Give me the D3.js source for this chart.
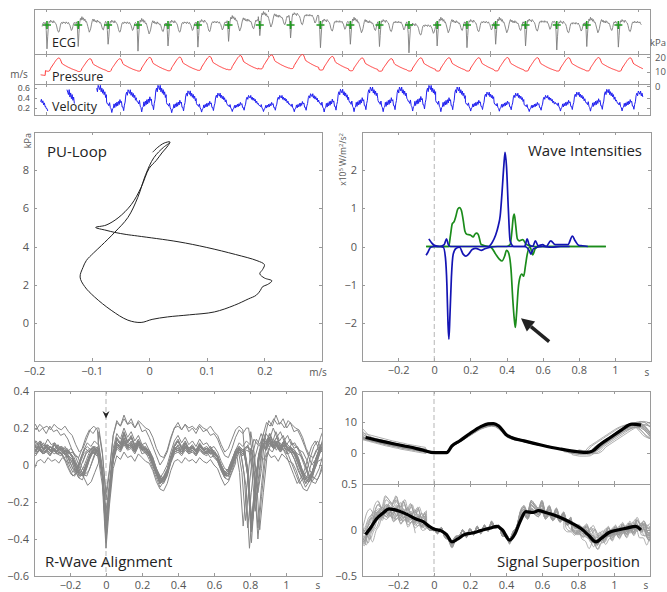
<!DOCTYPE html>
<html>
<head>
<meta charset="utf-8">
<script src="https://cdn.jsdelivr.net/npm/d3@7"></script>
<style>
  body { margin: 0; background: #fff; }
  svg text { font-family: "Open Sans", "Noto Sans", sans-serif; }
  .tick text { fill: #555; font-size: 11px; font-family: "Open Sans", "Noto Sans", sans-serif; }
  .tick line { stroke: #9a9a9a; shape-rendering: crispEdges; }
  .domain { display: none; }
  .tight .tick text { font-family: "Liberation Sans", sans-serif; font-size: 8.8px; }
</style>
</head>
<body>
<svg id="fig" width="667" height="592"></svg>
<script>
const rTimes = [0.031, 0.875, 1.683, 2.491, 3.302, 4.110, 4.939, 5.783, 6.615, 7.423,
  8.231, 9.018, 9.815, 10.577, 11.383, 12.158, 12.966, 13.810, 14.621, 15.475];
const rPrev = -0.80; // beat before the first marker (off screen)
const rMarkerLevel = 0.035;

// one-cycle templates, time relative to R (s)
const tmplT = [-0.04, -0.02, 0, 0.02, 0.04, 0.06, 0.08, 0.10, 0.12, 0.14, 0.16, 0.18, 0.20, 0.22, 0.24,
  0.26, 0.28, 0.30, 0.32, 0.34, 0.36, 0.38, 0.40, 0.42, 0.44, 0.46, 0.48, 0.50, 0.52, 0.54,
  0.56, 0.58, 0.60, 0.62, 0.64, 0.66, 0.68, 0.70, 0.72, 0.74, 0.76, 0.78, 0.80, 0.82, 0.84];
const ecgTmplA = [0.07, -0.06, -0.40, -0.16, 0.03, 0.10, 0.08, 0.12, 0.09, 0.10, 0.07, 0.11, 0.09, 0.07, 0.06,
  0.02, -0.04, -0.08, -0.09, -0.05, 0.02, 0.07, 0.08, 0.06, 0.09, 0.07, 0.08, 0.06, 0.09, 0.07,
  0.06, 0.08, 0.05, 0.03, -0.02, -0.06, -0.04, 0.01, 0.06, 0.08, 0.06, 0.08, 0.07, 0.06, 0.08];
const ecgTmplB = [0.08, -0.04, -0.38, -0.12, 0.06, 0.14, 0.11, 0.17, 0.12, 0.15, 0.10, 0.13, 0.08, 0.09, 0.05,
  0.0, -0.05, -0.10, -0.07, -0.03, 0.04, 0.10, 0.13, 0.09, 0.12, 0.08, 0.10, 0.07, 0.11, 0.08,
  0.09, 0.06, 0.07, 0.04, -0.01, -0.05, -0.06, -0.01, 0.05, 0.09, 0.07, 0.10, 0.08, 0.07, 0.09];
const presTmpl = [0.45, 0.2, 0, 0, 0, 0.1, 0.8, 2.2, 3.0, 3.8, 4.6, 5.4, 6.2, 7.0, 7.8,
  8.5, 9.0, 9.4, 9.6, 9.4, 8.6, 7.3, 5.9, 5.2, 4.9, 4.6, 4.3, 4.0, 3.7, 3.4,
  3.1, 2.8, 2.6, 2.3, 2.1, 1.8, 1.6, 1.4, 1.2, 1.0, 0.8, 0.6, 0.45, 0.3, 0.2];
const velTmpl = [0.03, 0.0, 0, -0.03, 0.02, -0.06, -0.08, -0.14, -0.08, -0.07, 0.0, -0.06, 0.01, -0.04, 0.03,
  -0.03, 0.04, -0.01, 0.07, 0.02, 0.04, -0.05, -0.05, -0.11, -0.02, 0.03, 0.15, 0.19, 0.14, 0.23,
  0.2, 0.17, 0.23, 0.14, 0.19, 0.12, 0.17, 0.1, 0.14, 0.06, 0.1, 0.03, 0.05, -0.01, -0.04];

// per-beat values (first entry = beat before the first marker)
const ecgShape = [0, 0, 1, 0, 1, 0, 0, 1, 1, 0, 0, 1, 0, 0, 1, 0, 1, 0, 0, 1, 0];
const ecgOffset = [0, 0, 0.01, 0, -0.02, 0, 0.01, 0.03, 0.1, 0.13, 0.02, 0, 0.01, -0.05, 0, 0.01, 0, 0.02, -0.01, 0, 0.01];
const ecgDepth = [-0.3, -0.38, -0.35, -0.3, -0.4, -0.33, -0.36, -0.28, -0.25, -0.32, -0.38, -0.3, -0.35, -0.4, -0.33, -0.37, -0.3, -0.35, -0.39, -0.34, -0.36];
const presDia = [7.0, 10.2, 10.0, 10.0, 10.3, 10.5, 10.8, 11.2, 11.8, 12.0, 11.0, 10.5, 10.2, 10.3, 10.3, 10.3, 10.4, 10.3, 10.3, 10.4, 10.2];
const presGain = [0.4, 0.95, 0.92, 0.92, 0.98, 0.98, 1.0, 1.02, 1.0, 1.02, 0.98, 0.92, 0.9, 0.95, 0.96, 0.96, 0.96, 0.96, 0.96, 0.96, 0.96];
const velBase = [0.2, 0.19, 0.32, 0.28, 0.32, 0.27, 0.26, 0.25, 0.25, 0.26, 0.29, 0.31, 0.31, 0.33, 0.31, 0.28, 0.27, 0.25, 0.28, 0.3, 0.29];
const velGain = [1.0, 1.6, 1.4, 1.2, 1.4, 1.15, 1.0, 0.85, 0.85, 0.95, 1.2, 1.3, 1.3, 1.35, 1.3, 1.0, 0.95, 0.85, 1.0, 1.15, 1.05];

const ecgSpan = [-0.112, 16.1];
const presSpan = [-0.158, 16.14];
const velSegments = [[-0.158, 0.066], [0.564, 0.788], [1.375, 16.14]];

// ensemble means (Signal Superposition, black)
const presMeanT = [-0.38, -0.3, -0.22, -0.14, -0.06, 0, 0.07, 0.1, 0.14, 0.2, 0.26, 0.3, 0.33, 0.36, 0.4, 0.43,
  0.5, 0.6, 0.7, 0.8, 0.85, 0.88, 0.92, 0.98, 1.04, 1.1, 1.15];
const presMeanV = [5.0, 3.9, 2.9, 2.0, 0.9, 0.1, 0.1, 2.3, 3.8, 6.3, 8.5, 9.4, 9.5, 8.7, 6.0, 5.0,
  3.9, 2.5, 1.3, 0.4, 0.2, 0.6, 2.6, 5.0, 7.4, 9.3, 9.0];
const velMeanT = [-0.38, -0.35, -0.32, -0.28, -0.25, -0.2, -0.15, -0.1, -0.06, -0.02, 0, 0.04, 0.07, 0.1, 0.13,
  0.17, 0.22, 0.27, 0.31, 0.35, 0.38, 0.42, 0.45, 0.48, 0.51, 0.55, 0.58, 0.62, 0.67, 0.72, 0.77,
  0.82, 0.86, 0.9, 0.93, 0.97, 1.02, 1.07, 1.12, 1.15];
const velMeanV = [-0.05, 0.03, 0.12, 0.19, 0.23, 0.21, 0.17, 0.12, 0.09, 0.03, 0.01, -0.01, -0.05, -0.13, -0.1,
  -0.05, -0.03, 0.0, 0.02, 0.04, 0.0, -0.11, -0.04, 0.1, 0.2, 0.19, 0.21, 0.19, 0.16, 0.12, 0.07,
  0.01, -0.06, -0.13, -0.09, -0.03, 0.0, 0.02, 0.04, 0.0];

// PU-loop (m/s, kPa)
const puU = [0.006, 0.015, 0.026, 0.036, 0.033, 0.022, 0.012, 0.0, -0.014, -0.031, -0.054, -0.075, -0.093, -0.075, -0.06,
  -0.04, -0.02, 0.05, 0.1, 0.15, 0.187, 0.2, 0.197, 0.192, 0.2, 0.213, 0.205, 0.197, 0.193, 0.186,
  0.172, 0.148, 0.113, 0.07, 0.032, 0.005, -0.014, -0.037, -0.066, -0.095, -0.112, -0.12, -0.115, -0.109, -0.097,
  -0.083, -0.06, -0.037, -0.02, -0.006, 0.008, 0.025, 0.036];
const puP = [8.94, 9.2, 9.42, 9.48, 9.3, 8.9, 8.5, 8.1, 7.1, 6.2, 5.5, 5.12, 5.0, 4.85, 4.74,
  4.63, 4.55, 4.25, 3.95, 3.58, 3.26, 3.05, 2.8, 2.57, 2.35, 2.2, 2.0, 1.9, 1.7, 1.45,
  1.25, 0.92, 0.57, 0.42, 0.31, 0.18, 0.02, 0.14, 0.66, 1.36, 1.9, 2.4, 2.9, 3.27, 3.65,
  4.05, 4.74, 5.52, 6.56, 7.78, 8.65, 9.2, 9.43];

// wave intensities (x10^5 W/m^2/s^2)
const bluePosT = [-0.03, -0.015, 0, 0.03, 0.055, 0.068, 0.078, 0.09, 0.2, 0.3, 0.32, 0.34, 0.355, 0.365, 0.375,
  0.385, 0.392, 0.4, 0.41, 0.42, 0.44, 0.5, 0.515, 0.525, 0.545, 0.56, 0.575, 0.6, 0.62, 0.645,
  0.67, 0.7, 0.74, 0.765, 0.78, 0.8, 0.82, 0.85];
const bluePosV = [0.2, 0.1, 0.03, 0, 0.05, 0.2, 0.05, 0, 0, 0, 0.1, 0.3, 0.55, 0.8, 1.4,
  2.1, 2.47, 2.1, 1.0, 0.15, 0, 0, 0.2, 0.05, 0, 0.15, 0.02, 0.05, 0, 0.15,
  0.05, 0.05, 0.05, 0.27, 0.15, 0.03, 0.02, 0];
const blueNegT = [-0.045, -0.035, -0.02, 0, 0.03, 0.05, 0.062, 0.07, 0.076, 0.081, 0.087, 0.095, 0.105, 0.12, 0.14,
  0.16, 0.175, 0.19, 0.21, 0.23, 0.26, 0.28, 0.31, 0.35, 0.45, 0.5, 0.525, 0.535, 0.55, 0.6,
  0.65, 0.7, 0.75];
const blueNegV = [-0.23, -0.15, -0.02, 0, 0, -0.02, -0.3, -1.0, -2.0, -2.43, -1.8, -0.8, -0.2, -0.05, -0.02,
  -0.2, -0.25, -0.2, -0.08, -0.05, -0.1, -0.06, -0.02, 0, 0, 0, -0.1, -0.2, -0.05, 0,
  -0.02, 0, 0];
const greenPosT = [-0.045, 0.05, 0.08, 0.09, 0.1, 0.11, 0.12, 0.13, 0.14, 0.15, 0.16, 0.17, 0.18, 0.2, 0.215,
  0.225, 0.235, 0.245, 0.26, 0.3, 0.4, 0.42, 0.43, 0.437, 0.443, 0.45, 0.46, 0.47, 0.49, 0.51,
  0.53, 0.56, 0.95];
const greenPosV = [0, 0, 0, 0.3, 0.6, 0.65, 0.8, 0.98, 1.02, 0.95, 0.7, 0.4, 0.32, 0.3, 0.25,
  0.32, 0.35, 0.3, 0.05, 0, 0, 0.05, 0.4, 0.75, 0.85, 0.6, 0.2, 0.15, 0.18, 0.05,
  0.02, 0, 0];
const greenNegT = [-0.045, 0.3, 0.32, 0.34, 0.36, 0.375, 0.39, 0.4, 0.41, 0.425, 0.435, 0.443, 0.449, 0.455, 0.465,
  0.475, 0.485, 0.495, 0.505, 0.515, 0.53, 0.545, 0.56, 0.58, 0.95];
const greenNegV = [0, 0, -0.05, -0.2, -0.33, -0.38, -0.25, -0.1, -0.15, -0.6, -1.4, -1.9, -2.12, -1.8, -1.1,
  -0.8, -0.72, -0.78, -0.5, -0.2, 0, -0.22, -0.05, 0, 0];
const arrowTail = [0.636, -2.49], arrowTip = [0.48, -1.88];

const topTicks = [0, 2, 4, 6, 8, 10, 12, 14, 16];
const alignTicks = [-0.2, 0, 0.2, 0.4, 0.6, 0.8, 1];

// ---------------------------------------------------------------
const svg = d3.select("#fig");
const fmt = (d) => (d < 0 ? "\u2212" : "") + Math.abs(d);
const blank = () => "";
const axisGray = "#9a9a9a";

function box(x0, y0, x1, y1) {
	svg.append("rect").attr("x", x0).attr("y", y0).attr("width", x1 - x0).attr("height", y1 - y0)
		.attr("fill", "none").attr("stroke", axisGray).attr("shape-rendering", "crispEdges");
}
function clip(id, x0, y0, x1, y1) {
	svg.append("clipPath").attr("id", id).append("rect")
		.attr("x", x0).attr("y", y0).attr("width", x1 - x0).attr("height", y1 - y0);
	return "url(#" + id + ")";
}
function xTicks(xs, vals, yTop, yBot, labels) {
	svg.append("g").attr("transform", "translate(0," + yBot + ")")
		.call(d3.axisBottom(xs).tickValues(vals).tickSize(-3).tickPadding(5).tickFormat(labels ? fmt : blank));
	svg.append("g").attr("transform", "translate(0," + yTop + ")")
		.call(d3.axisTop(xs).tickValues(vals).tickSize(-3).tickFormat(blank));
}
function yTicks(ys, vals, xL, xR, labels) {
	svg.append("g").attr("transform", "translate(" + xL + ",0)")
		.call(d3.axisLeft(ys).tickValues(vals).tickSize(-3).tickPadding(5).tickFormat(labels ? fmt : blank));
	svg.append("g").attr("transform", "translate(" + xR + ",0)")
		.call(d3.axisRight(ys).tickValues(vals).tickSize(-3).tickFormat(blank));
}
function label(x, y, txt, size, anchor, color) {
	return svg.append("text").attr("x", x).attr("y", y).attr("font-size", size)
		.attr("text-anchor", anchor || "start").attr("fill", color || "#222").text(txt);
}
function pathOf(pts, xs, ys, curve, defined) {
	const line = d3.line().x((d) => xs(d[0])).y((d) => ys(d[1])).curve(curve || d3.curveLinear);
	if (defined) line.defined(defined);
	return line(pts);
}
const zip = (a, b) => a.map((v, i) => [v, b[i]]);

// ---- build continuous recordings from the beat list ----
const beatR = [rPrev].concat(rTimes);
function buildSeries(valueAt, span) {
	const pts = [];
	beatR.forEach((r, i) => {
		const next = i + 1 < beatR.length ? beatR[i + 1] + tmplT[0] : Infinity;
		tmplT.forEach((tt, k) => {
			const t = r + tt;
			if (t < next && t >= span[0] && t <= span[1]) pts.push([t, valueAt(i, k)]);
		});
	});
	return pts;
}
const ecgSeries = buildSeries((i, k) => (k === 2 ? ecgDepth[i] : (ecgShape[i] ? ecgTmplB : ecgTmplA)[k]) + ecgOffset[i], ecgSpan);
const presSeries = buildSeries((i, k) => presDia[i] + presGain[i] * presTmpl[k], presSpan);
const velSeries = buildSeries((i, k) => velBase[i] + velGain[i] * velTmpl[k], [velSegments[0][0], velSegments[2][1]]);
const velOn = (t) => velSegments.some((s) => t >= s[0] && t <= s[1]);

function aligned(series, r, ref) {
	return series.filter((p) => p[0] >= r - 0.45 && p[0] <= r + 1.25).map((p) => [p[0] - r, p[1] - ref, p[0]]);
}

// ================= TOP: recording =================
const topX = d3.scaleLinear().domain([-0.32, 16.33]).range([34, 650]);
const ecgY = d3.scaleLinear().domain([-0.47, 0.314]).range([54, 9]);
const presY = d3.scaleLinear().domain([0, 20]).range([86, 57]);
const velY = d3.scaleLinear().domain([0.2, 0.6]).range([108, 87.5]);
const rows = [[9, 54], [54, 84], [84, 115]];

rows.forEach((r) => xTicks(topX, topTicks, r[0], r[1], false));
svg.append("g").attr("class", "tight").attr("transform", "translate(34,0)")
	.call(d3.axisLeft(velY).tickValues([0.2, 0.4, 0.6]).tickSize(-3).tickPadding(4).tickFormat((d) => d));
svg.append("g").attr("transform", "translate(650,0)")
	.call(d3.axisRight(velY).tickValues([0.2, 0.4]).tickSize(-3).tickFormat(blank));
svg.append("g").attr("transform", "translate(650,0)")
	.call(d3.axisRight(presY).tickValues([0, 10, 20]).tickSize(-3).tickPadding(5).tickFormat((d) => d))
	.selectAll("text").style("font-size", "9.5px");
rows.forEach((r) => box(34, r[0], 650, r[1]));

svg.append("path").attr("clip-path", clip("cEcg", 34, 9, 650, 54))
	.attr("d", pathOf(ecgSeries, topX, ecgY)).attr("fill", "none").attr("stroke", "#7d7d7d").attr("stroke-width", 0.9);
svg.append("g").selectAll("path").data(rTimes).join("path")
	.attr("d", (d) => "M" + (topX(d) - 4) + "," + ecgY(rMarkerLevel) + "h8M" + topX(d) + "," + (ecgY(rMarkerLevel) - 4) + "v8")
	.attr("stroke", "#1f9a1f").attr("stroke-width", 1.6);
svg.append("path").attr("clip-path", clip("cPres", 34, 54, 650, 84))
	.attr("d", pathOf(presSeries, topX, presY)).attr("fill", "none").attr("stroke", "#ff3b3b").attr("stroke-width", 1);
svg.append("path").attr("clip-path", clip("cVel", 34, 84, 650, 115))
	.attr("d", pathOf(velSeries, topX, velY, null, (d) => velOn(d[0]))).attr("fill", "none").attr("stroke", "#2020f0").attr("stroke-width", 1);

label(52, 47, "ECG", 12.5);
label(52, 81, "Pressure", 12.5);
label(52, 111, "Velocity", 12.5);
label(19, 78, "m/s", 10, "middle", "#555");
label(650, 46, "kPa", 9.5, "start", "#555");

// ================= PU-Loop =================
const puX = d3.scaleLinear().domain([-0.2, 0.3]).range([34, 322]);
const puY = d3.scaleLinear().domain([-2, 10]).range([361, 132]);
xTicks(puX, [-0.2, -0.1, 0, 0.1, 0.2, 0.3], 132, 361, false);
svg.append("g").attr("transform", "translate(0,361)")
	.call(d3.axisBottom(puX).tickValues([-0.2, -0.1, 0, 0.1, 0.2]).tickSize(0).tickPadding(6).tickFormat(fmt));
yTicks(puY, [0, 2, 4, 6, 8], 34, 322, true);
box(34, 132, 322, 361);
svg.append("path").attr("d", pathOf(zip(puU, puP), puX, puY, d3.curveCatmullRom))
	.attr("fill", "none").attr("stroke", "#222").attr("stroke-width", 1);
label(318, 376, "m/s", 10, "middle", "#555");
label(0, 0, "kPa", 9, "end", "#555").attr("transform", "translate(31,133) rotate(-90)");
label(47, 157, "PU-Loop", 15);

// ================= Wave Intensities =================
const wiX = d3.scaleLinear().domain([-0.4, 1.2]).range([362, 651]);
const wiY = d3.scaleLinear().domain([-3, 3]).range([361, 132]);
xTicks(wiX, alignTicks, 132, 361, true);
yTicks(wiY, [-2, -1, 0, 1, 2], 362, 651, true);
box(362, 132, 651, 361);
svg.append("line").attr("x1", wiX(0)).attr("x2", wiX(0)).attr("y1", 132).attr("y2", 361)
	.attr("stroke", "#b5b5b5").attr("stroke-dasharray", "5,3");
[[greenPosT, greenPosV, "#1b8c1b"], [greenNegT, greenNegV, "#1b8c1b"],
 [bluePosT, bluePosV, "#1414b4"], [blueNegT, blueNegV, "#1414b4"]].forEach((s) => {
	svg.append("path").attr("d", pathOf(zip(s[0], s[1]), wiX, wiY, d3.curveMonotoneX))
		.attr("fill", "none").attr("stroke", s[2]).attr("stroke-width", 1.7);
});
(function () {
	const tx = wiX(arrowTip[0]), ty = wiY(arrowTip[1]);
	const sx = wiX(arrowTail[0]), sy = wiY(arrowTail[1]);
	const ang = Math.atan2(ty - sy, tx - sx), len = 13, half = 6.5;
	const bx = tx - len * Math.cos(ang), by = ty - len * Math.sin(ang);
	svg.append("line").attr("x1", sx).attr("y1", sy).attr("x2", bx).attr("y2", by)
		.attr("stroke", "#222").attr("stroke-width", 3.5);
	svg.append("path").attr("fill", "#222").attr("d", "M" + tx + "," + ty +
		"L" + (bx + half * Math.sin(ang)) + "," + (by - half * Math.cos(ang)) +
		"L" + (bx - half * Math.sin(ang)) + "," + (by + half * Math.cos(ang)) + "Z");
})();
label(647, 376, "s", 10, "middle", "#555");
const wiUnit = label(0, 0, "", 8.5, "end", "#555").attr("transform", "translate(346,133) rotate(-90)");
wiUnit.append("tspan").text("x10");
wiUnit.append("tspan").attr("dy", -3).attr("font-size", 6).text("5");
wiUnit.append("tspan").attr("dy", 3).text(" W/m");
wiUnit.append("tspan").attr("dy", -3).attr("font-size", 6).text("2");
wiUnit.append("tspan").attr("dy", 3).text("/s");
wiUnit.append("tspan").attr("dy", -3).attr("font-size", 6).text("2");
label(642, 156, "Wave Intensities", 15, "end");

// ================= R-Wave Alignment =================
const raX = d3.scaleLinear().domain([-0.4, 1.2]).range([34, 322]);
const raY = d3.scaleLinear().domain([-0.6, 0.4]).range([576, 391]);
xTicks(raX, alignTicks, 391, 576, true);
yTicks(raY, [-0.6, -0.4, -0.2, 0, 0.2, 0.4], 34, 322, true);
const raClip = clip("cRa", 34, 391, 322, 576);
svg.append("line").attr("x1", raX(0)).attr("x2", raX(0)).attr("y1", 391).attr("y2", 576)
	.attr("stroke", "#b5b5b5").attr("stroke-dasharray", "5,3");
svg.append("g").attr("clip-path", raClip).selectAll("path").data(rTimes.map((r) => aligned(ecgSeries, r, 0))).join("path")
	.attr("d", (d) => pathOf(d, raX, raY)).attr("fill", "none").attr("stroke", "#858585").attr("stroke-width", 1);
svg.append("path").attr("transform", "translate(" + raX(0) + "," + raY(0.27) + ")")
	.attr("d", "M-3.5,-4L0,3.5L3.5,-4L0,-1.5Z").attr("fill", "#222");
box(34, 391, 322, 576);
label(318, 589, "s", 10, "middle", "#555");
label(45, 567, "R-Wave Alignment", 15);

// ================= Signal Superposition =================
const ssX = d3.scaleLinear().domain([-0.4, 1.2]).range([362, 650]);
const ssPY = d3.scaleLinear().domain([-10, 20]).range([484, 391]);
const ssVY = d3.scaleLinear().domain([-0.5, 0.5]).range([576, 484]);
xTicks(ssX, alignTicks, 391, 484, false);
xTicks(ssX, alignTicks, 484, 576, true);
yTicks(ssPY, [0, 10, 20], 362, 650, true);
yTicks(ssVY, [-0.5, 0, 0.5], 362, 650, true);
svg.append("line").attr("x1", ssX(0)).attr("x2", ssX(0)).attr("y1", 391).attr("y2", 576)
	.attr("stroke", "#b5b5b5").attr("stroke-dasharray", "5,3");
const ssPClip = clip("cSsP", 362, 391, 650, 484), ssVClip = clip("cSsV", 362, 484, 650, 576);
// the first marked beat has no complete preceding cycle, so the ensemble starts at the second
const ensemble = rTimes.map((r, i) => ({ r: r, beat: i + 1 })).slice(1);
svg.append("g").attr("clip-path", ssPClip).selectAll("path")
	.data(ensemble.map((b) => aligned(presSeries, b.r, presDia[b.beat]))).join("path")
	.attr("d", (d) => pathOf(d, ssX, ssPY)).attr("fill", "none").attr("stroke", "#999").attr("stroke-width", 0.8);
svg.append("g").attr("clip-path", ssVClip).selectAll("path")
	.data(ensemble.map((b) => aligned(velSeries, b.r, velBase[b.beat]))).join("path")
	.attr("d", (d) => pathOf(d, ssX, ssVY, d3.curveMonotoneX, (p) => velOn(p[2])))
	.attr("fill", "none").attr("stroke", "#999").attr("stroke-width", 0.8);
svg.append("path").attr("d", pathOf(zip(presMeanT, presMeanV), ssX, ssPY, d3.curveMonotoneX))
	.attr("fill", "none").attr("stroke", "#000").attr("stroke-width", 3.2);
svg.append("path").attr("d", pathOf(zip(velMeanT, velMeanV), ssX, ssVY, d3.curveMonotoneX))
	.attr("fill", "none").attr("stroke", "#000").attr("stroke-width", 3.2);
box(362, 391, 650, 484);
box(362, 484, 650, 576);
label(646, 589, "s", 10, "middle", "#555");
label(640, 567, "Signal Superposition", 15, "end");
</script>
</body>
</html>
